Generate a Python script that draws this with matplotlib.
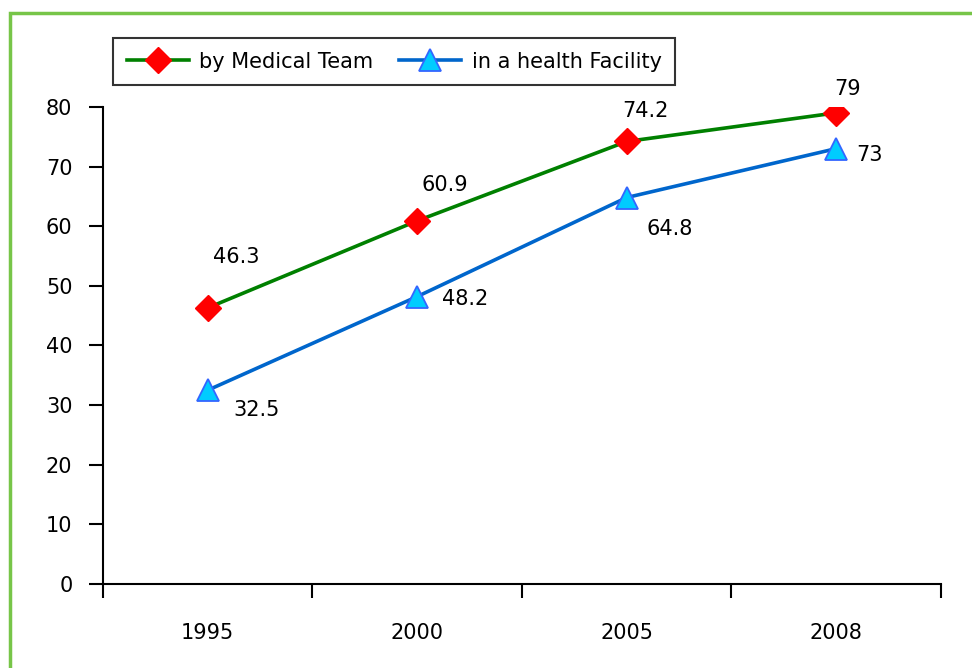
import matplotlib
matplotlib.use("Agg")
import matplotlib.pyplot as plt
from matplotlib.patches import Rectangle

years = ["1995", "2000", "2005", "2008"]
medical_team = [46.3, 60.9, 74.2, 79]
health_facility = [32.5, 48.2, 64.8, 73]
yticks = [0, 10, 20, 30, 40, 50, 60, 70, 80]

plt.rcParams['font.family'] = ['DejaVu Sans']

fig = plt.figure(figsize=(9.72, 6.68), dpi=100)
ax = fig.add_axes([0.106, 0.1257, 0.862, 0.7143])

x = list(range(len(years)))
ax.plot(x, medical_team, color="#008000", lw=2.6, marker="D", ms=13,
        mfc="#ff0000", mec="#ff0000", label="by Medical Team", zorder=3)
ax.plot(x, health_facility, color="#0066cc", lw=2.6, marker="^", ms=16,
        mfc="#00ccff", mec="#3366ff", mew=1.3, label="in a health Facility", zorder=3)

# data labels, offsets in pixels
red_off = [(28, 51), (28, 36), (19, 30), (11, 24)]
blue_off = [(49, -20), (48, -2), (43, -31), (33, -6)]
for i, v in enumerate(medical_team):
    ax.annotate(f"{v:g}", (x[i], v), textcoords="offset pixels", xytext=red_off[i],
                ha="center", va="center", fontsize=15)
for i, v in enumerate(health_facility):
    ax.annotate(f"{v:g}", (x[i], v), textcoords="offset pixels", xytext=blue_off[i],
                ha="center", va="center", fontsize=15)

ax.set_xlim(-0.5, 3.5)
ax.set_ylim(0, 80)
ax.set_yticks(yticks)
ax.set_xticks(x)
ax.set_xticklabels(years)
ax.set_xticks([-0.5, 0.5, 1.5, 2.5, 3.5], minor=True)
ax.tick_params(axis="x", which="major", length=0, pad=28, labelsize=15)
ax.tick_params(axis="x", which="minor", length=10, width=1.5, direction="out")
ax.tick_params(axis="y", length=10, width=1.5, direction="out", pad=12, labelsize=15)
ax.spines["top"].set_visible(False)
ax.spines["right"].set_visible(False)
ax.spines["left"].set_linewidth(1.5)
ax.spines["bottom"].set_linewidth(1.5)

leg = fig.legend(loc="upper left", bbox_to_anchor=(113 / 972, 1 - 38 / 668), ncol=2,
                 fontsize=15, frameon=True, fancybox=False, edgecolor="black",
                 handlelength=3.0, columnspacing=1.2, handletextpad=0.5,
                 borderpad=0.65, borderaxespad=0)
leg.get_frame().set_linewidth(1.5)

fig.patches.append(Rectangle((9.5 / 972, -0.05), 1.1, 1 - 12.5 / 668 + 0.05,
                             transform=fig.transFigure, fill=False,
                             edgecolor="#77c548", lw=2.5))

fig.savefig("out.png", dpi=100)
